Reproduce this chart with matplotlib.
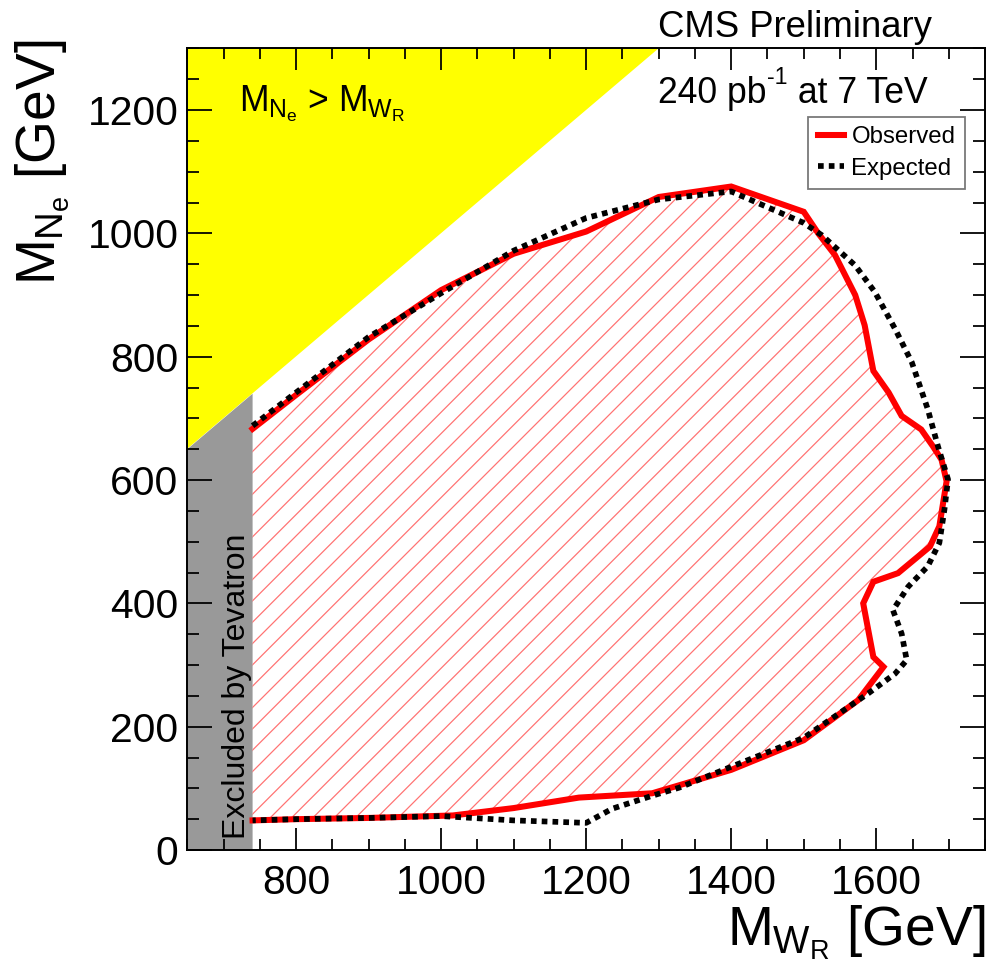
import matplotlib
matplotlib.use('Agg')
import matplotlib.pyplot as plt
from matplotlib.ticker import MultipleLocator

plt.rcParams['font.family'] = ['Liberation Sans', 'DejaVu Sans']
plt.rcParams['mathtext.fontset'] = 'custom'
plt.rcParams['mathtext.rm'] = 'Liberation Sans'
plt.rcParams['mathtext.it'] = 'Liberation Sans'
plt.rcParams['mathtext.bf'] = 'Liberation Sans:bold'
plt.rcParams['hatch.linewidth'] = 0.7

# observed exclusion contour (M_WR, M_Ne) in GeV
obs_x = [740, 800, 900, 1000, 1100, 1200, 1300, 1400, 1500, 1520, 1543, 1571, 1584, 1596,
         1617, 1635, 1662, 1678, 1690, 1697, 1687, 1674, 1630, 1596, 1582, 1596, 1610,
         1575, 1500, 1400, 1291, 1190, 1100, 1016, 900, 800, 740]
obs_y = [683, 738, 828, 908, 967, 1003, 1059, 1076, 1035, 1000, 965, 900, 851, 777,
         742, 704, 682, 655, 633, 598, 525, 492, 449, 435, 400, 313, 297,
         243, 178, 130, 92, 85, 68, 56, 52, 50, 48]

# expected exclusion contour
exp_x = [740, 800, 900, 1000, 1100, 1200, 1300, 1400, 1500, 1525, 1571, 1598, 1626, 1649,
         1671, 1685, 1699, 1694, 1687, 1671, 1644, 1623, 1635, 1642, 1626, 1589,
         1500, 1400, 1328, 1291, 1236, 1200, 1100, 1000, 900, 800, 740]
exp_y = [688, 742, 832, 903, 972, 1025, 1055, 1068, 1017, 997, 948, 905, 845, 791,
         715, 655, 601, 552, 498, 460, 427, 389, 351, 308, 286, 254,
         182, 135, 101, 88, 67, 44, 48, 55, 52, 50, 48]

tev_limit = 740
xmin, xmax = 650, 1750
ymin, ymax = 0, 1300

fig = plt.figure(figsize=(988 / 128, 968 / 128), dpi=128)
ax = fig.add_axes([0.1896, 0.1219, 0.8074, 0.8281])

# kinematically forbidden region M_N > M_W
ax.fill([xmin, xmin, ymax], [xmin, ymax, ymax], color='#ffff00', lw=0, zorder=1)
# tevatron exclusion
ax.fill([xmin, tev_limit, tev_limit, xmin], [0, 0, tev_limit, xmin], color='#999999', lw=0, zorder=1)

ax.fill(obs_x, obs_y, facecolor='none', edgecolor=(1, 0, 0, 0.55), hatch='//', lw=0, zorder=1.2)
ax.plot(obs_x, obs_y, color='#ff0000', lw=3.4, solid_joinstyle='miter', zorder=2, label='Observed')
ax.plot(exp_x, exp_y, color='black', lw=3.2, linestyle=(0, (1, 0.9)), dash_capstyle='butt',
        zorder=2.1, label='Expected')

ax.set_xlim(xmin, xmax)
ax.set_ylim(ymin, ymax)
ax.xaxis.set_major_locator(MultipleLocator(200))
ax.xaxis.set_minor_locator(MultipleLocator(50))
ax.yaxis.set_major_locator(MultipleLocator(200))
ax.yaxis.set_minor_locator(MultipleLocator(50))
ax.tick_params(axis='both', which='both', direction='in', top=True, right=True, width=1.0, labelsize=23)
ax.tick_params(axis='x', which='major', length=12.4, pad=8)
ax.tick_params(axis='x', which='minor', length=6.2)
ax.tick_params(axis='y', which='major', length=14, pad=5)
ax.tick_params(axis='y', which='minor', length=7)
for sp in ax.spines.values():
    sp.set_linewidth(1.1)
ax.set_axisbelow(False)

ax.text(718, 18, 'Excluded by Tevatron', rotation=90, ha='center', va='bottom', fontsize=18)
fig.text(239 / 988, 1 - 111.7 / 968, r'$M_{N_e}$ > $M_{W_R}$', fontsize=20, ha='left', va='baseline')

fig.text(932 / 988, 1 - 36.7 / 968, 'CMS Preliminary', fontsize=20.5, ha='right', va='baseline')
t1 = fig.text(658 / 988, 1 - 103 / 968, '240 pb', fontsize=20, ha='left', va='baseline')
t2 = ax.annotate('-1', xy=(1, 0.62), xycoords=t1, xytext=(0.5, 0), textcoords='offset points',
                 fontsize=13, ha='left', va='bottom', annotation_clip=False)
ax.annotate(' at 7 TeV', xy=(1, 0), xycoords=(t2, t1), fontsize=20, ha='left', va='bottom',
            annotation_clip=False)

fig.text(985 / 988, 1 - 945 / 968, r'$M_{W_R}$ [GeV]', fontsize=31, ha='right', va='baseline')
fig.text(14 / 988, 1 - 40 / 968, r'$M_{N_e}$ [GeV]', fontsize=31, rotation=90, ha='left', va='top')

leg = ax.legend(loc='upper right', bbox_to_anchor=(0.975, 0.915), fontsize=13.5, frameon=True,
                fancybox=False, handlelength=1.1, handletextpad=0.3, borderpad=0.4,
                labelspacing=0.4, borderaxespad=0)
leg.get_frame().set_edgecolor('#555555')
leg.get_frame().set_linewidth(1.0)

fig.savefig('out.png', dpi=128)
